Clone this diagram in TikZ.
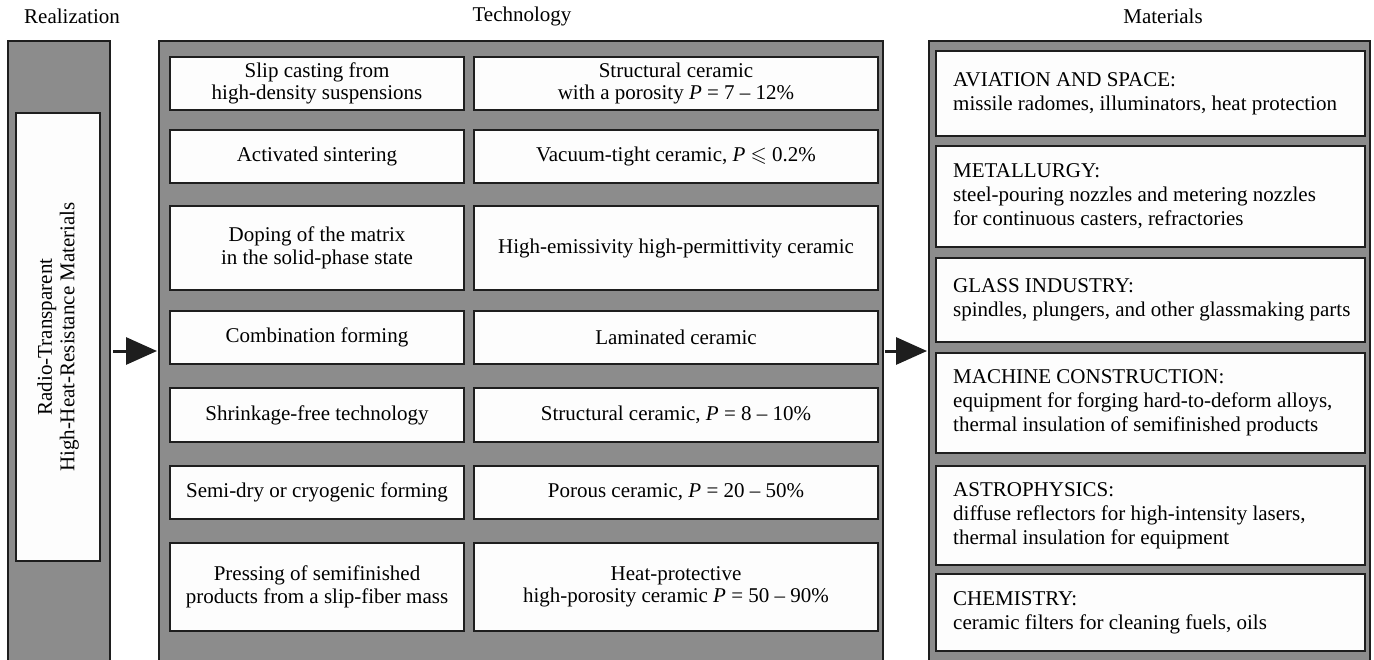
\documentclass[tikz,border=0pt]{standalone}
\usepackage{fontspec}
\usepackage{amssymb}
\setmainfont{Liberation Serif}
\usetikzlibrary{arrows.meta}
\definecolor{panelgray}{HTML}{8C8C8C}
\definecolor{edgecol}{HTML}{1E1E1E}
\definecolor{boxwhite}{HTML}{FDFDFD}
\begin{document}
\begin{tikzpicture}[x=1pt,y=-1pt,
  font=\fontsize{21}{22.5}\selectfont,
  panel/.style={draw=edgecol, fill=panelgray, line width=2pt, inner sep=0pt, outer sep=0pt, anchor=north west, minimum height=700pt},
  tbox/.style={draw=edgecol, fill=boxwhite, line width=1.4pt, inner sep=0pt, outer sep=0pt, anchor=north west, align=center},
  mtext/.style={anchor=west, align=left, inner sep=0pt, font=\fontsize{21}{24}\selectfont},
  header/.style={inner sep=0pt},
  arr/.style={-{Triangle[length=31pt,width=27pt]}, line width=3pt, draw=edgecol, fill=edgecol}
]
\useasboundingbox (0,0) rectangle (1374,659);
\fill[white] (0,0) rectangle (1374,659);

% headers
\node[header] (hreal) at (72,16) {Realization};
\node[header] (htech) at (522,16) {Technology};
\node[header] (hmat) at (1163,16) {Materials};

% panels
\node[panel, minimum width=102pt] (real) at (8,41) {};
\node[panel, minimum width=724pt] (tech) at (159,41) {};
\node[panel, minimum width=441pt] (mat) at (929,41) {};

% realization box
\node[tbox, minimum width=84pt, minimum height=448pt] (rbox) at (16,113) {};
\node[rotate=90, align=center, inner sep=0pt] (rtext) at (rbox.center) {Radio-Transparent\\High-Heat-Resistance Materials};

% technology rows
\node[tbox, minimum width=294pt, minimum height=53pt] (t1a) at (170,57) {Slip casting from\\high-density suspensions};
\node[tbox, minimum width=404pt, minimum height=53pt] (t1b) at (474,57) {Structural ceramic\\with a porosity \textit{P} = 7 -- 12\%};

\node[tbox, minimum width=294pt, minimum height=53pt] (t2a) at (170,130) {Activated sintering};
\node[tbox, minimum width=404pt, minimum height=53pt] (t2b) at (474,130) {Vacuum-tight ceramic, \textit{P} $\leqslant$ 0.2\%};

\node[tbox, minimum width=294pt, minimum height=84pt] (t3a) at (170,206) {Doping of the matrix\\in the solid-phase state};
\node[tbox, minimum width=404pt, minimum height=84pt] (t3b) at (474,206) {High-emissivity high-permittivity ceramic};

\node[tbox, minimum width=294pt, minimum height=53pt] (t4a) at (170,311) {Combination forming};
\node[tbox, minimum width=404pt, minimum height=53pt] (t4b) at (474,311) {Laminated ceramic};

\node[tbox, minimum width=294pt, minimum height=54pt] (t5a) at (170,388) {Shrinkage-free technology};
\node[tbox, minimum width=404pt, minimum height=54pt] (t5b) at (474,388) {Structural ceramic, \textit{P} = 8 -- 10\%};

\node[tbox, minimum width=294pt, minimum height=53pt] (t6a) at (170,466) {Semi-dry or cryogenic forming};
\node[tbox, minimum width=404pt, minimum height=53pt] (t6b) at (474,466) {Porous ceramic, \textit{P} = 20 -- 50\%};

\node[tbox, minimum width=294pt, minimum height=88pt] (t7a) at (170,543) {Pressing of semifinished\\products from a slip-fiber mass};
\node[tbox, minimum width=404pt, minimum height=88pt] (t7b) at (474,543) {Heat-protective\\high-porosity ceramic \textit{P} = 50 -- 90\%};

% materials boxes
\node[tbox, minimum width=429pt, minimum height=85pt] (m1) at (936,51) {};
\node[mtext] (m1t) at ([xshift=17pt]m1.west) {AVIATION AND SPACE:\\missile radomes, illuminators, heat protection};
\node[tbox, minimum width=429pt, minimum height=101pt] (m2) at (936,146) {};
\node[mtext] (m2t) at ([xshift=17pt]m2.west) {METALLURGY:\\steel-pouring nozzles and metering nozzles\\for continuous casters, refractories};
\node[tbox, minimum width=429pt, minimum height=84pt] (m3) at (936,258) {};
\node[mtext] (m3t) at ([xshift=17pt]m3.west) {GLASS INDUSTRY:\\spindles, plungers, and other glassmaking parts};
\node[tbox, minimum width=429pt, minimum height=100pt] (m4) at (936,353) {};
\node[mtext] (m4t) at ([xshift=17pt]m4.west) {MACHINE CONSTRUCTION:\\equipment for forging hard-to-deform alloys,\\thermal insulation of semifinished products};
\node[tbox, minimum width=429pt, minimum height=99pt] (m5) at (936,466) {};
\node[mtext] (m5t) at ([xshift=17pt]m5.west) {ASTROPHYSICS:\\diffuse reflectors for high-intensity lasers,\\thermal insulation for equipment};
\node[tbox, minimum width=429pt, minimum height=77pt] (m6) at (936,574) {};
\node[mtext] (m6t) at ([xshift=17pt]m6.west) {CHEMISTRY:\\ceramic filters for cleaning fuels, oils};

% arrows
\coordinate (ay) at (0,351);
\draw[arr] ([xshift=3pt]real.east |- ay) -- ([xshift=-2pt]tech.west |- ay);
\draw[arr] ([xshift=2pt]tech.east |- ay) -- ([xshift=-2pt]mat.west |- ay);
\end{tikzpicture}
\end{document}
